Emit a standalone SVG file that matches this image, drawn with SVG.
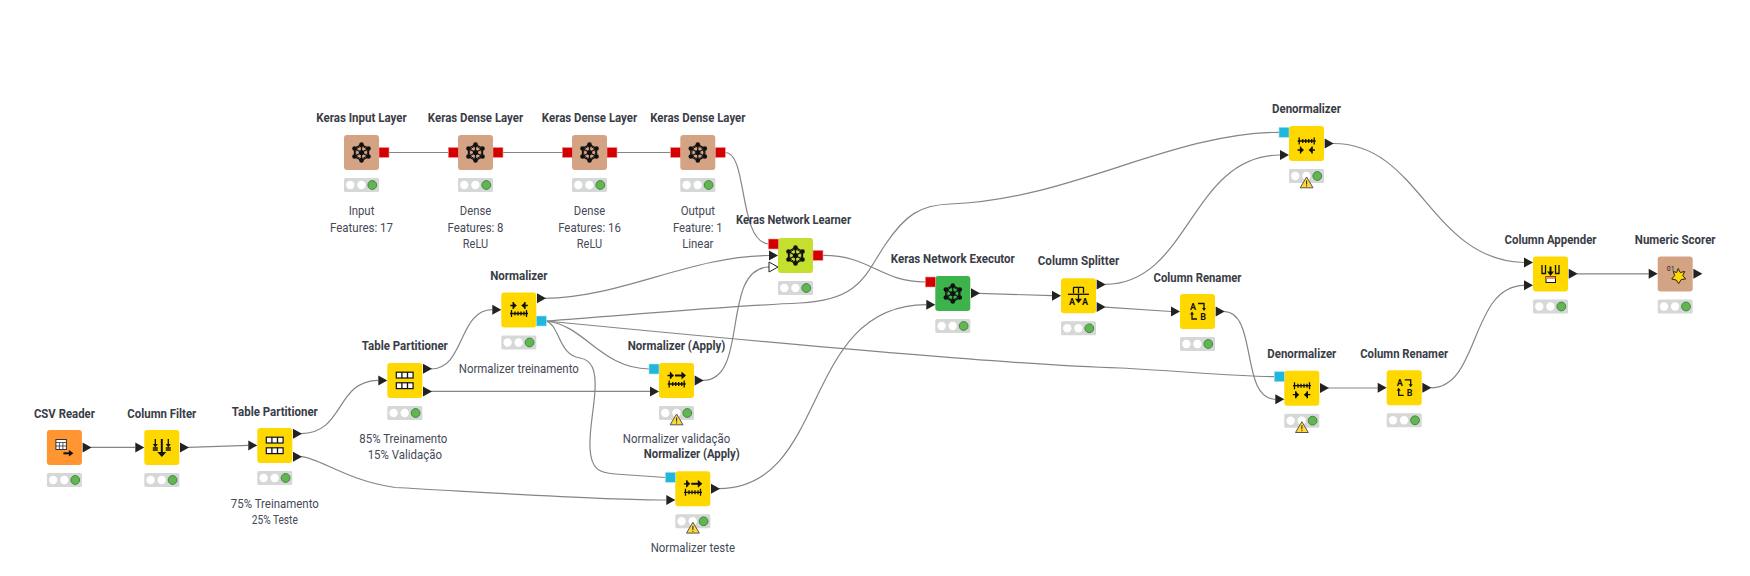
<svg xmlns="http://www.w3.org/2000/svg" width="1750" height="576" viewBox="0 0 1750 576">
<style>
text{font-family:Roboto,"Liberation Sans",sans-serif;text-anchor:middle}
.t{font-size:13px;font-weight:700;fill:#3a3d47}
.a{font-size:13px;fill:#454a58}
.c{fill:none;stroke:#858585;stroke-width:1.2}
.y{fill:#ffd800}.k{fill:#d3a384}.o{fill:#ff9632}.l{fill:#c4df2e}.g{fill:#3cb34b}
.i{fill:none;stroke:#111;stroke-width:1.3}
.s{fill:none;stroke:#111;stroke-width:2}
.f{fill:#111}
.m{font-size:9px;font-weight:700;fill:#111}
</style>
<defs>
<path id="tri" d="M0-5L9 0L0 5Z" fill="#222"/>
<rect id="red" width="10" height="10" x="0" y="-5" fill="#d40000" stroke="#f09a9a" stroke-width=".6"/>
<rect id="blue" width="10" height="10" x="0" y="-5" fill="#1fb8dc" stroke="#a8e3f0" stroke-width=".6"/>
<g id="status">
<rect y="43" width="35" height="14" rx="1.500" fill="#d5d8d7"/>
<circle cx="6.300" cy="50" r="4.200" fill="#fff"/><circle cx="17.400" cy="50" r="4.200" fill="#fff"/>
<circle cx="28.300" cy="50" r="4.400" fill="#62b552" stroke="#3d8a3a"/>
</g>
<g id="warn">
<path d="M17.600 51L24 61.800H11.200Z" fill="#ffd83a" stroke="#555"/>
<path d="M17.600 54.500V58.600M17.600 59.500V60.600" stroke="#222"/>
</g>
<g id="ikeras">
<path class="i" d="M17.500 9.500L24.500 13.500V21.500L17.500 25.500L10.500 21.500V13.500ZM17.500 9.500V25.500M10.500 13.500L24.500 21.500M24.500 13.500L10.500 21.500"/>
<circle cx="17.500" cy="17.500" r="6" fill="none" stroke="#111"/>
<g class="f"><circle cx="17.500" cy="9.500" r="2.300"/><circle cx="24.500" cy="13.500" r="2.300"/><circle cx="24.500" cy="21.500" r="2.300"/><circle cx="17.500" cy="25.500" r="2.300"/><circle cx="10.500" cy="21.500" r="2.300"/><circle cx="10.500" cy="13.500" r="2.300"/><circle cx="17.500" cy="17.500" r="2.600"/></g>
</g>
<path id="ticks" class="i" d="M0 0H18M1.500-3.500V3.500M5-2V2M8-2V2M11-2V2M14-2V2M16.500-3.500V3.500"/>
<g id="dotr"><path class="i" d="M-3 0H2M0-3.500V3.500"/><path class="f" d="M-.5-3.500L3.500 0L-.5 3.500Z"/></g>
<g id="dotl"><path class="i" d="M3 0H-2M0-3.500V3.500"/><path class="f" d="M.5-3.500L-3.500 0L.5 3.500Z"/></g>
<g id="inorm"><use href="#dotr" x="12" y="13"/><use href="#dotl" x="23.500" y="13"/><use href="#ticks" x="8.700" y="21"/></g>
<g id="idenorm"><use href="#ticks" x="8.700" y="15"/><use href="#dotr" x="11.500" y="24"/><use href="#dotl" x="23" y="24"/></g>
<g id="iapply"><use href="#dotr" x="11.500" y="12.500"/><path class="s" d="M16 12.500H24"/><path class="f" d="M22.500 8.500L27 12.500L22.500 16.500Z"/><use href="#ticks" x="8.700" y="21"/></g>
<g id="itp">
<rect x="9" y="9.200" width="16.800" height="5.800" fill="#fff" stroke="#111" stroke-width="1.200"/><path class="i" d="M14.600 9.200V15M20.200 9.200V15"/>
<rect x="9" y="19.800" width="16.800" height="5.800" fill="#fff" stroke="#111" stroke-width="1.200"/><path class="i" d="M14.600 19.800V25.600M20.200 19.800V25.600"/>
</g>
<g id="irename">
<text class="m" x="13" y="16">A</text><text class="m" x="23" y="26">B</text>
<path class="i" d="M18 9.500H24V15M17 25H12V19.500"/>
<path class="f" d="M22 14H26L24 17ZM10 20.500H14L12 17.500Z"/>
</g>
</defs>

<g id="connectors">
<path class="c" d="M90.700 447.300H135"/>
<path class="c" d="M188 447.300L248.300 445.300"/>
<path class="c" d="M301 433.700C345 433 335 381 378.300 380.400"/>
<path class="c" d="M301 456.700C320 458 345 480 395 487.500C480 492 600 500 666 500"/>
<path class="c" d="M431 369C465 369 458 310 492.300 309.700"/>
<path class="c" d="M431 391.400H650"/>
<path class="c" d="M545 298.300C620 298 690 256 769 255.500"/>
<path class="c" d="M546 321C640 314 730 306 800 303C860 300 865 275 885 245C905 215 920 205 950 204C1070 200 1170 133 1279 132.300"/>
<path class="c" d="M546 321C585 325 600 368 649 369"/>
<path class="c" d="M546 321C560 325 558 355 580 358C592 360 596 370 595 390C594 410 589 430 590 448C591 470 600 473 615 474L665.300 477.500"/>
<path class="c" d="M546 321C700 336 1000 365 1120 368C1180 371 1230 376 1274.300 376.700"/>
<path class="c" d="M703 380.400C750 380 720 268 769 267"/>
<path class="c" d="M719 488.700C830 488 800 305 926.300 304.600"/>
<path class="c" d="M388.700 152.500H448.300"/>
<path class="c" d="M502.700 152.500H562.300"/>
<path class="c" d="M616.700 152.500H670.300"/>
<path class="c" d="M725 152.500C748 152 738 240 768 244"/>
<path class="c" d="M822.700 255.300C870 255 880 282 925.300 282"/>
<path class="c" d="M979 293.300L1052 295.700"/>
<path class="c" d="M1105 284.400C1190 284 1190 156 1280 155"/>
<path class="c" d="M1105 307.100L1171 311.500"/>
<path class="c" d="M1224 311.500C1258 312 1240 399 1275.300 399.300"/>
<path class="c" d="M1328 388H1377.700"/>
<path class="c" d="M1430.700 387.800C1480 388 1470 286 1524 285.300"/>
<path class="c" d="M1333 143.500C1420 143 1430 260 1524 262.500"/>
<path class="c" d="M1577 273.800H1648.700"/>
</g>

<g id="node-csv-reader" transform="translate(46.900 430)">
<text class="t" x="17.500" y="-12.500" textLength="61" lengthAdjust="spacingAndGlyphs">CSV Reader</text>
<rect class="o" width="35" height="35" rx="3"/>
<rect x="9" y="9.500" width="10.500" height="10" fill="#fff" stroke="#333"/><path d="M9 12.500H19.500M9 16H19.500M12.500 12.500V19.500M16 12.500V19.500" stroke="#333" stroke-width=".8"/>
<path class="s" d="M16.500 23.300H23"/><path class="f" d="M22 20L26.500 23.300L22 26.600Z"/>
<use href="#tri" x="35.700" y="17.400"/><use href="#status"/>
</g>
<g id="node-column-filter" transform="translate(144.300 430)">
<text class="t" x="17.500" y="-12.500" textLength="69" lengthAdjust="spacingAndGlyphs">Column Filter</text>
<rect class="y" width="35" height="35" rx="3"/>
<path class="s" d="M17.500 9V24"/><path class="f" d="M13 22H22L17.500 27Z"/>
<path class="i" d="M11 9V15M24 9V15M8.500 18H13.500M21.500 18H26.500M8.500 20H13.500M21.500 20H26.500"/><path class="f" d="M8.500 14H13.500L11 17.500ZM21.500 14H26.500L24 17.500Z"/>
<use href="#tri" x="-9" y="17.400"/><use href="#tri" x="35.700" y="17.400"/><use href="#status"/>
</g>
<g id="node-table-partitioner-1" transform="translate(257.300 428)">
<text class="t" x="17.500" y="-12.500" textLength="86" lengthAdjust="spacingAndGlyphs">Table Partitioner</text>
<rect class="y" width="35" height="35" rx="3"/><use href="#itp"/>
<use href="#tri" x="-9" y="17.400"/><use href="#tri" x="35.700" y="5.800"/><use href="#tri" x="35.700" y="28.700"/><use href="#status"/>
<text class="a" x="17.500" y="80" textLength="88" lengthAdjust="spacingAndGlyphs">75% Treinamento</text>
<text class="a" x="17.500" y="96" textLength="46" lengthAdjust="spacingAndGlyphs">25% Teste</text>
</g>
<g id="node-keras-input" transform="translate(344 135)">
<text class="t" x="17.500" y="-13.300" textLength="90.300" lengthAdjust="spacingAndGlyphs">Keras Input Layer</text>
<rect class="k" width="35" height="35" rx="3"/><use href="#ikeras"/>
<use href="#red" x="35" y="17.500"/><use href="#status"/>
<text class="a" x="17.500" y="80" textLength="25.700" lengthAdjust="spacingAndGlyphs">Input</text>
<text class="a" x="17.500" y="96.500" textLength="63" lengthAdjust="spacingAndGlyphs">Features: 17</text>
</g>
<g id="node-keras-dense-1" transform="translate(458 135)">
<text class="t" x="17.500" y="-13.300" textLength="95.300" lengthAdjust="spacingAndGlyphs">Keras Dense Layer</text>
<rect class="k" width="35" height="35" rx="3"/><use href="#ikeras"/>
<use href="#red" x="-9.700" y="17.500"/><use href="#red" x="35" y="17.500"/><use href="#status"/>
<text class="a" x="17.500" y="80" textLength="31.300" lengthAdjust="spacingAndGlyphs">Dense</text>
<text class="a" x="17.500" y="96.500" textLength="56" lengthAdjust="spacingAndGlyphs">Features: 8</text>
<text class="a" x="17.500" y="112.700" textLength="25.300" lengthAdjust="spacingAndGlyphs">ReLU</text>
</g>
<g id="node-keras-dense-2" transform="translate(572 135)">
<text class="t" x="17.500" y="-13.300" textLength="95.300" lengthAdjust="spacingAndGlyphs">Keras Dense Layer</text>
<rect class="k" width="35" height="35" rx="3"/><use href="#ikeras"/>
<use href="#red" x="-9.700" y="17.500"/><use href="#red" x="35" y="17.500"/><use href="#status"/>
<text class="a" x="17.500" y="80" textLength="31.300" lengthAdjust="spacingAndGlyphs">Dense</text>
<text class="a" x="17.500" y="96.500" textLength="62.700" lengthAdjust="spacingAndGlyphs">Features: 16</text>
<text class="a" x="17.500" y="112.700" textLength="25.300" lengthAdjust="spacingAndGlyphs">ReLU</text>
</g>
<g id="node-keras-output" transform="translate(680.300 135)">
<text class="t" x="17.500" y="-13.300" textLength="95.300" lengthAdjust="spacingAndGlyphs">Keras Dense Layer</text>
<rect class="k" width="35" height="35" rx="3"/><use href="#ikeras"/>
<use href="#red" x="-9.700" y="17.500"/><use href="#red" x="35" y="17.500"/><use href="#status"/>
<text class="a" x="17.500" y="80" textLength="34.300" lengthAdjust="spacingAndGlyphs">Output</text>
<text class="a" x="17.500" y="96.500" textLength="49.700" lengthAdjust="spacingAndGlyphs">Feature: 1</text>
<text class="a" x="17.500" y="112.700" textLength="31.300" lengthAdjust="spacingAndGlyphs">Linear</text>
</g>
<g id="node-keras-learner" transform="translate(778 238)">
<text class="t" x="15.500" y="-14" textLength="115" lengthAdjust="spacingAndGlyphs">Keras Network Learner</text>
<rect class="l" width="35" height="35" rx="3"/><use href="#ikeras"/>
<use href="#red" x="-9.700" y="6"/><use href="#tri" x="-9" y="17.400"/><path d="M-9 24L0 29L-9 34Z" fill="#fff" stroke="#222"/>
<use href="#red" x="35" y="17.400"/><use href="#status"/>
</g>
<g id="node-normalizer" transform="translate(501.300 292.500)">
<text class="t" x="17.500" y="-13" textLength="57.300" lengthAdjust="spacingAndGlyphs">Normalizer</text>
<rect class="y" width="35" height="35" rx="3"/><use href="#inorm"/>
<use href="#tri" x="-9" y="17.200"/><use href="#tri" x="35.700" y="5.800"/><use href="#blue" x="35" y="28.500"/><use href="#status"/>
<text class="a" x="17.500" y="80.800" textLength="120" lengthAdjust="spacingAndGlyphs">Normalizer treinamento</text>
</g>
<g id="node-table-partitioner-2" transform="translate(387.300 363)">
<text class="t" x="17.500" y="-13" textLength="86" lengthAdjust="spacingAndGlyphs">Table Partitioner</text>
<rect class="y" width="35" height="35" rx="3"/><use href="#itp"/>
<use href="#tri" x="-9" y="17.400"/><use href="#tri" x="35.700" y="5.800"/><use href="#tri" x="35.700" y="28.400"/><use href="#status"/>
<text class="a" x="16" y="80.300" textLength="88" lengthAdjust="spacingAndGlyphs">85% Treinamento</text>
<text class="a" x="17.500" y="96.300" textLength="74.300" lengthAdjust="spacingAndGlyphs">15% Validação</text>
</g>
<g id="node-normalizer-apply-1" transform="translate(659 363)">
<text class="t" x="17.500" y="-13" textLength="97.700" lengthAdjust="spacingAndGlyphs">Normalizer (Apply)</text>
<rect class="y" width="35" height="35" rx="3"/><use href="#iapply"/>
<use href="#blue" x="-10" y="6"/><use href="#tri" x="-9" y="28.400"/><use href="#tri" x="35.700" y="17.400"/><use href="#status"/><use href="#warn"/>
<text class="a" x="17.500" y="80.300" textLength="107.300" lengthAdjust="spacingAndGlyphs">Normalizer validação</text>
</g>
<g id="node-normalizer-apply-2" transform="translate(675.300 471.300)">
<text class="t" x="16.500" y="-13" textLength="96" lengthAdjust="spacingAndGlyphs">Normalizer (Apply)</text>
<rect class="y" width="35" height="35" rx="3"/><use href="#iapply"/>
<use href="#blue" x="-10" y="6"/><use href="#tri" x="-9" y="28.700"/><use href="#tri" x="35.700" y="17.400"/><use href="#status"/><use href="#warn"/>
<text class="a" x="17.500" y="80.700" textLength="84.300" lengthAdjust="spacingAndGlyphs">Normalizer teste</text>
</g>
<g id="node-keras-executor" transform="translate(935.300 276)">
<text class="t" x="17.500" y="-13" textLength="124" lengthAdjust="spacingAndGlyphs">Keras Network Executor</text>
<rect class="g" width="35" height="35" rx="3"/><use href="#ikeras"/>
<use href="#red" x="-10" y="6"/><use href="#tri" x="-9" y="28.700"/><use href="#tri" x="35.700" y="17.300"/><use href="#status"/>
</g>
<g id="node-column-splitter" transform="translate(1061 278.300)">
<text class="t" x="17.500" y="-13" textLength="81.500" lengthAdjust="spacingAndGlyphs">Column Splitter</text>
<rect class="y" width="35" height="35" rx="3"/>
<path class="i" d="M12.500 9H17.500V15M22.500 9H17.500M12.500 9V15M22.500 9V15"/>
<path class="i" d="M7 16H28"/>
<path class="i" d="M17.500 16V22"/><path class="f" d="M14 20.500H21L17.500 25Z"/>
<text class="m" x="11" y="27">A</text><text class="m" x="24" y="27">A</text>
<use href="#tri" x="-9" y="17.400"/><use href="#tri" x="35.700" y="6.100"/><use href="#tri" x="35.700" y="28.800"/><use href="#status"/>
</g>
<g id="node-column-renamer-1" transform="translate(1180 294)">
<text class="t" x="17.500" y="-12" textLength="88" lengthAdjust="spacingAndGlyphs">Column Renamer</text>
<rect class="y" width="35" height="35" rx="3"/><use href="#irename"/>
<use href="#tri" x="-9" y="17.500"/><use href="#tri" x="35.700" y="17.500"/><use href="#status"/>
</g>
<g id="node-denormalizer-1" transform="translate(1289 126)">
<text class="t" x="17.500" y="-13" textLength="69" lengthAdjust="spacingAndGlyphs">Denormalizer</text>
<rect class="y" width="35" height="35" rx="3"/><use href="#idenorm"/>
<use href="#blue" x="-10" y="6.300"/><use href="#tri" x="-9" y="29"/><use href="#tri" x="35.700" y="17.500"/><use href="#status"/><use href="#warn"/>
</g>
<g id="node-denormalizer-2" transform="translate(1284.300 370.700)">
<text class="t" x="17.500" y="-13" textLength="69" lengthAdjust="spacingAndGlyphs">Denormalizer</text>
<rect class="y" width="35" height="35" rx="3"/><use href="#idenorm"/>
<use href="#blue" x="-10" y="6"/><use href="#tri" x="-9" y="28.600"/><use href="#tri" x="35.700" y="17.300"/><use href="#status"/><use href="#warn"/>
</g>
<g id="node-column-renamer-2" transform="translate(1386.700 370.300)">
<text class="t" x="17.500" y="-12.500" textLength="88" lengthAdjust="spacingAndGlyphs">Column Renamer</text>
<rect class="y" width="35" height="35" rx="3"/><use href="#irename"/>
<use href="#tri" x="-9" y="17.500"/><use href="#tri" x="35.700" y="17.500"/><use href="#status"/>
</g>
<g id="node-column-appender" transform="translate(1533 256.500)">
<text class="t" x="17.500" y="-13" textLength="92" lengthAdjust="spacingAndGlyphs">Column Appender</text>
<rect class="y" width="35" height="35" rx="3"/>
<path class="i" d="M9 8.500V17H12.500V8.500M22.500 8.500V17H26V8.500"/><path class="s" d="M17.500 10V17"/><path class="f" d="M14 15H21L17.500 19.500Z"/>
<rect x="13" y="20" width="9.500" height="6" fill="#fff" stroke="#111"/><rect x="13" y="20" width="9.500" height="2.400" fill="#f0903a"/>
<use href="#tri" x="-9" y="6"/><use href="#tri" x="-9" y="28.800"/><use href="#tri" x="35.700" y="17.300"/><use href="#status"/>
</g>
<g id="node-numeric-scorer" transform="translate(1657.700 256.500)">
<text class="t" x="17.500" y="-13" textLength="80.700" lengthAdjust="spacingAndGlyphs">Numeric Scorer</text>
<rect class="k" width="35" height="35" rx="3"/>
<text x="13" y="14" font-size="7" fill="#222">01</text>
<path d="M20.500 12L22.500 16L27 15L25 19L28 22.500L23.500 23L21 27L18.500 23.500L14 22.500L17 19L15.500 15L19 16Z" fill="#ffd800" stroke="#222"/>
<use href="#tri" x="-9" y="17.300"/><use href="#tri" x="35.700" y="17.300"/><use href="#status"/>
</g>
</svg>
